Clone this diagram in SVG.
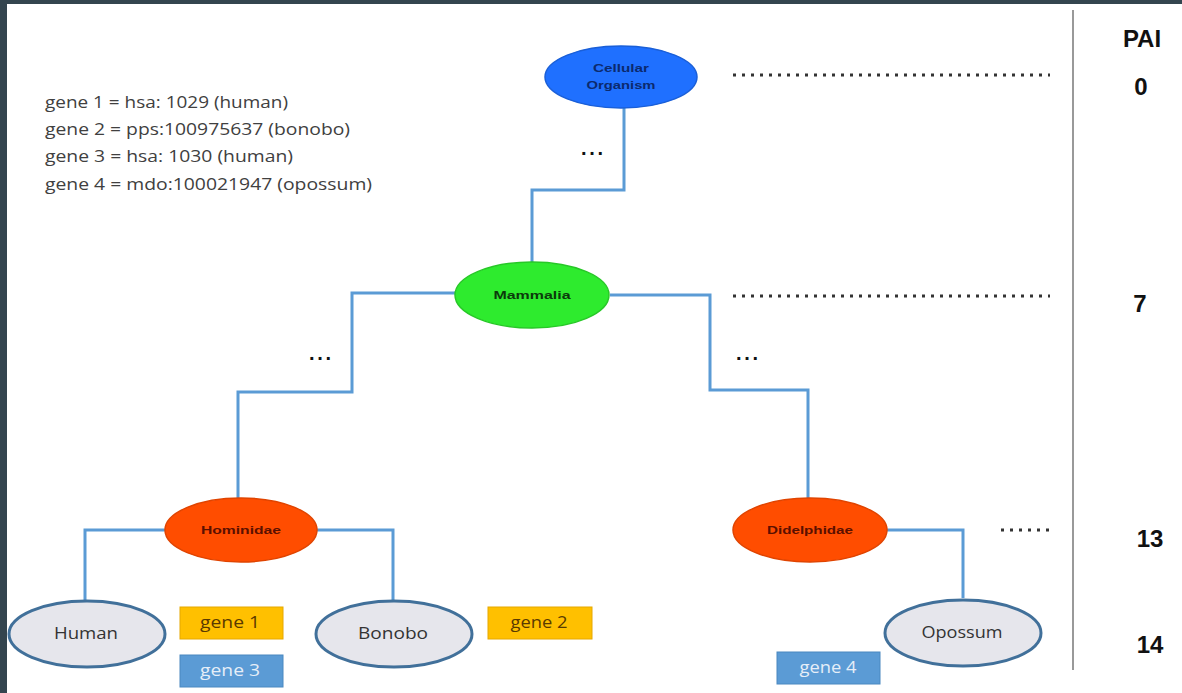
<svg xmlns="http://www.w3.org/2000/svg" width="1182" height="693" viewBox="0 0 1182 693">
<style>
.conn{fill:none;stroke:#5b9bd5;stroke-width:3}
.dots{stroke:#333;stroke-width:3;stroke-dasharray:3 6}
.lbl{font-family:"Liberation Sans",Arial,sans-serif;font-weight:bold;font-size:11.5px;text-anchor:middle}
.leaf{fill:#e6e6ec;stroke:#41709a;stroke-width:3}
.leaft{font-family:"Open Sans","Liberation Sans",sans-serif;font-size:16px;fill:#333;text-anchor:middle}
.gene{font-family:"Open Sans","Liberation Sans",sans-serif;font-size:16px;text-anchor:middle}
.legend{font-family:"Open Sans","Liberation Sans",sans-serif;font-size:15.5px;fill:#404040}
.pai{font-family:"Liberation Sans",Arial,sans-serif;font-weight:bold;font-size:24px;fill:#111;text-anchor:middle}
.ell{font-family:"Liberation Sans",Arial,sans-serif;font-weight:bold;font-size:20px;fill:#111;text-anchor:middle}
</style>
<rect x="0" y="0" width="1182" height="693" fill="#34454f"/>
<rect x="7" y="4" width="1175" height="689" fill="#ffffff"/>
<g id="legend">
<text class="legend" x="45" y="108" textLength="243" lengthAdjust="spacingAndGlyphs">gene 1 = hsa: 1029 (human)</text>
<text class="legend" x="45" y="135" textLength="305" lengthAdjust="spacingAndGlyphs">gene 2 = pps:100975637 (bonobo)</text>
<text class="legend" x="45" y="162" textLength="248" lengthAdjust="spacingAndGlyphs">gene 3 = hsa: 1030 (human)</text>
<text class="legend" x="45" y="190" textLength="327" lengthAdjust="spacingAndGlyphs">gene 4 = mdo:100021947 (opossum)</text>
</g>
<g id="connectors">
<path class="conn" d="M624,108 V190 H532 V262"/>
<path class="conn" d="M455,293 H352 V392 H238 V498"/>
<path class="conn" d="M610,295 H710 V390 H808 V498"/>
<path class="conn" d="M165,530 H85 V600"/>
<path class="conn" d="M317,530 H393 V600"/>
<path class="conn" d="M887,530 H963 V598"/>
</g>
<g id="ellipses">
<text class="ell" x="592" y="155" textLength="22" lengthAdjust="spacing">...</text>
<text class="ell" x="320" y="360" textLength="22" lengthAdjust="spacing">...</text>
<text class="ell" x="747" y="360" textLength="22" lengthAdjust="spacing">...</text>
</g>
<g id="cellular">
<ellipse cx="621" cy="77" rx="76" ry="31" fill="#1f70ff" stroke="#1a5fd8" stroke-width="1.5"/>
<text class="lbl" x="621" y="72" fill="#0b2a6e" textLength="56" lengthAdjust="spacingAndGlyphs">Cellular</text>
<text class="lbl" x="621" y="89" fill="#0b2a6e" textLength="69" lengthAdjust="spacingAndGlyphs">Organism</text>
</g>
<g id="mammalia">
<ellipse cx="532" cy="295" rx="77" ry="33" fill="#2eeb2e" stroke="#27c827" stroke-width="1.5"/>
<text class="lbl" x="532" y="299" fill="#0b3a0b" textLength="77" lengthAdjust="spacingAndGlyphs">Mammalia</text>
</g>
<g id="hominidae">
<ellipse cx="241" cy="530" rx="76" ry="32" fill="#ff4d00" stroke="#e04400" stroke-width="1.5"/>
<text class="lbl" x="241" y="534" fill="#5a1000" textLength="80" lengthAdjust="spacingAndGlyphs">Hominidae</text>
</g>
<g id="didelphidae">
<ellipse cx="810" cy="530" rx="77" ry="32" fill="#ff4d00" stroke="#e04400" stroke-width="1.5"/>
<text class="lbl" x="810" y="534" fill="#5a1000" textLength="86" lengthAdjust="spacingAndGlyphs">Didelphidae</text>
</g>
<g id="human">
<ellipse class="leaf" cx="87" cy="634" rx="78" ry="33"/>
<text class="leaft" x="86" y="639" textLength="64" lengthAdjust="spacingAndGlyphs">Human</text>
</g>
<g id="bonobo">
<ellipse class="leaf" cx="394" cy="634" rx="78" ry="33"/>
<text class="leaft" x="393" y="639" textLength="70" lengthAdjust="spacingAndGlyphs">Bonobo</text>
</g>
<g id="opossum">
<ellipse class="leaf" cx="963" cy="633" rx="78" ry="33"/>
<text class="leaft" x="962" y="638" textLength="81" lengthAdjust="spacingAndGlyphs">Opossum</text>
</g>
<g id="gene1">
<rect x="180" y="607" width="103" height="32" fill="#ffc000" stroke="#e6a800"/>
<text class="gene" x="230" y="628" fill="#5a3a00" textLength="60" lengthAdjust="spacingAndGlyphs">gene 1</text>
</g>
<g id="gene3">
<rect x="180" y="655" width="103" height="32" fill="#5b9bd5" stroke="#4a88c0"/>
<text class="gene" x="230" y="676" fill="#e6eef8" textLength="60" lengthAdjust="spacingAndGlyphs">gene 3</text>
</g>
<g id="gene2">
<rect x="488" y="607" width="104" height="32" fill="#ffc000" stroke="#e6a800"/>
<text class="gene" x="539" y="628" fill="#5a3a00" textLength="57" lengthAdjust="spacingAndGlyphs">gene 2</text>
</g>
<g id="gene4">
<rect x="777" y="652" width="103" height="32" fill="#5b9bd5" stroke="#4a88c0"/>
<text class="gene" x="828" y="673" fill="#e6eef8" textLength="57" lengthAdjust="spacingAndGlyphs">gene 4</text>
</g>
<g id="levels">
<line class="dots" x1="733" y1="75" x2="1050" y2="75"/>
<line class="dots" x1="733" y1="296" x2="1050" y2="296"/>
<line class="dots" x1="1001" y1="530" x2="1050" y2="530"/>
<line x1="1073" y1="10" x2="1073" y2="670" stroke="#999" stroke-width="2"/>
<text class="pai" x="1142" y="47">PAI</text>
<text class="pai" x="1141" y="95">0</text>
<text class="pai" x="1140" y="312">7</text>
<text class="pai" x="1150" y="547">13</text>
<text class="pai" x="1150" y="653">14</text>
</g>
</svg>
